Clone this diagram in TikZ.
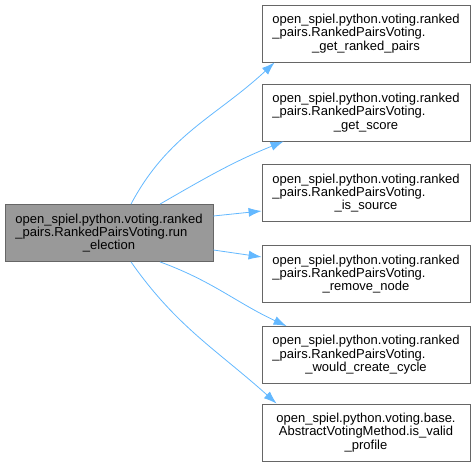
\documentclass[tikz,border=0pt]{standalone}
\usepackage{fontspec}
\setmainfont{Liberation Sans}
\usetikzlibrary{arrows.meta}
\definecolor{edgeblue}{HTML}{63B8FF}
\definecolor{boxgray}{HTML}{999999}
\definecolor{boxline}{HTML}{666666}
% two left-set lines, last line centred
\newcommand{\fnlabel}[3]{#1\\\rlap{#2}\phantom{#1}\\#3}
\tikzset{
  fnbox/.style={draw=boxline, line width=0.8pt, fill=white, minimum width=208pt,
    minimum height=57pt, inner sep=0pt, align=center,
    font=\fontsize{13}{13.4}\selectfont},
  mainbox/.style={fnbox, fill=boxgray},
  call/.style={->, draw=edgeblue, line width=0.8pt}
}
\begin{document}
\begin{tikzpicture}[x=1pt, y=1pt, >={Latex[length=13pt, width=9pt]}]
    \useasboundingbox (0,0) rectangle (475,466);
    % 1. Hàm gọi
    \node[mainbox] (run) at (109,233)
        {\fnlabel{open\_spiel.python.voting.ranked}{\_pairs.RankedPairsVoting.run}{\_election}};

    % 2. Các hàm được gọi
    \node[fnbox] (rp) at (366,432.5)
        {\fnlabel{open\_spiel.python.voting.ranked}{\_pairs.RankedPairsVoting.}{\_get\_ranked\_pairs}};
    \node[fnbox] (gs) at (366,353.5)
        {\fnlabel{open\_spiel.python.voting.ranked}{\_pairs.RankedPairsVoting.}{\_get\_score}};
    \node[fnbox] (src) at (366,273)
        {\fnlabel{open\_spiel.python.voting.ranked}{\_pairs.RankedPairsVoting.}{\_is\_source}};
    \node[fnbox] (rm) at (366,192)
        {\fnlabel{open\_spiel.python.voting.ranked}{\_pairs.RankedPairsVoting.}{\_remove\_node}};
    \node[fnbox] (cyc) at (366,111)
        {\fnlabel{open\_spiel.python.voting.ranked}{\_pairs.RankedPairsVoting.}{\_would\_create\_cycle}};
    \node[fnbox] (valid) at (366,33.5)
        {open\_spiel.python.voting.base.\\AbstractVotingMethod.is\_valid\\\_profile};

    % 3. Các cạnh gọi
    \draw[call] ([xshift=22pt]run.north) to[out=62, in=223] ([xshift=13pt]rp.south west);
    \draw[call] ([xshift=51pt]run.north) to[out=30, in=202] ([xshift=22pt]gs.south west);
    \draw[call] ([yshift=17pt]run.east) -- ([yshift=-18pt]src.west);
    \draw[call] ([yshift=-17pt]run.east) -- ([yshift=17pt]rm.west);
    \draw[call] ([xshift=51pt]run.south) to[out=-20, in=155] ([xshift=25pt]cyc.north west);
    \draw[call] ([xshift=22pt]run.south) to[out=-55, in=138] ([xshift=15pt]valid.north west);
\end{tikzpicture}
\end{document}
